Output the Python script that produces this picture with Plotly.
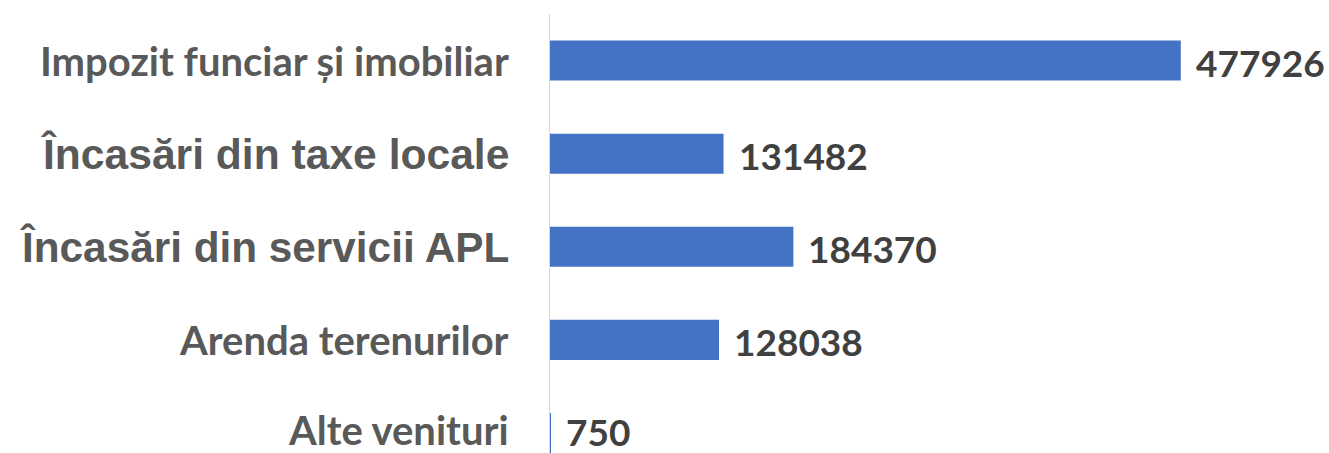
import plotly.graph_objects as go

categories = ["Impozit funciar și imobiliar", "Încasări din taxe locale",
              "Încasări din servicii APL", "Arenda terenurilor", "Alte venituri"]
values = [477926, 131482, 184370, 128038, 750]
label_fonts = ["Lato", "Liberation Sans", "Liberation Sans", "Lato", "Lato"]
label_sizes = [40, 42.6, 42.3, 40, 40]

fig = go.Figure()
fig.add_trace(go.Bar(
    y=categories, x=values, orientation="h",
    marker=dict(color="#4472C4", line=dict(width=0)),
    width=0.43, hoverinfo="skip",
))

annotations = []
for i, (cat, v, fnt, sz) in enumerate(zip(categories, values, label_fonts, label_sizes)):
    last = i == len(categories) - 1
    annotations.append(dict(
        xref="paper", x=0, yref="y", y=cat, xanchor="right", yanchor="middle",
        xshift=-40, yshift=3 if last else 0, borderpad=0,
        text="<b>%s</b>" % cat, showarrow=False,
        font=dict(family=fnt, size=sz, color="#595959"),
    ))
    annotations.append(dict(
        xref="x", x=v, yref="y", y=cat, xanchor="left", yanchor="middle",
        xshift=14, yshift=1 if last else -2, borderpad=0,
        text="<b>%d</b>" % v, showarrow=False,
        font=dict(family="Lato", size=37, color="#404040"),
    ))

fig.update_layout(
    width=1329, height=453,
    margin=dict(l=550, r=0, t=14, b=0),
    paper_bgcolor="white", plot_bgcolor="white",
    showlegend=False,
    xaxis=dict(range=[0, 590200], showticklabels=False, showgrid=False,
               zeroline=False, showline=False, ticks=""),
    yaxis=dict(categoryorder="array", categoryarray=categories,
               range=[4.215, -0.5], showticklabels=False, showgrid=False,
               zeroline=False, showline=True, linecolor="#D9D9D9", linewidth=1,
               ticks=""),
    annotations=annotations,
)

fig.write_html("out.html", config={"displayModeBar": False},
               post_script="document.body.style.margin='0';document.body.style.overflow='hidden';")
